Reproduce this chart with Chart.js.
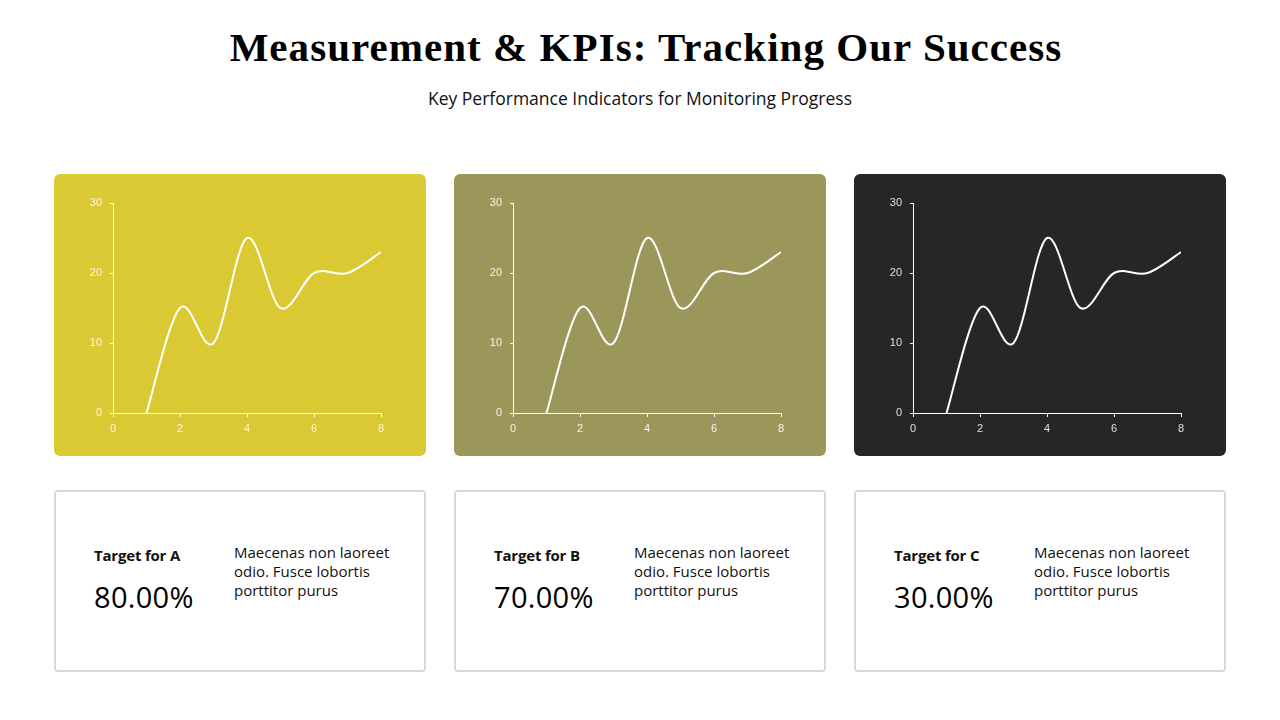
<!DOCTYPE html>
<html>
<head>
<meta charset="utf-8">
<script src="https://cdn.jsdelivr.net/npm/chart.js@4"></script>
<style>
  html, body { margin:0; padding:0; background:#fff; }
  body { width:1280px; height:720px; position:relative; overflow:hidden; font-family:"Open Sans", "Noto Sans", sans-serif; }
  h1 { position:absolute; left:6px; width:1280px; top:23px; margin:0; text-align:center;
       font-family:"Liberation Serif", "DejaVu Serif", serif; font-weight:bold; font-size:41px; color:#000; letter-spacing:1.05px; }
  .sub { position:absolute; left:0; width:1280px; top:86px; text-align:center; font-size:17.5px; color:#111; }
  .panel { position:absolute; top:174px; width:372px; height:282px; border-radius:6px; }
  .panel canvas { position:absolute; left:0; top:0; }
  .card { position:absolute; top:490px; width:368px; height:178px; border:2px solid #d9d9d9; border-radius:4px; background:#fff; }
  .card .lbl { position:absolute; left:38px; top:53px; font-size:15px; font-weight:bold; color:#111; letter-spacing:-0.2px; }
  .card .val { position:absolute; left:38px; top:85px; font-size:29px; color:#000; letter-spacing:0.3px; }
  .card .txt { position:absolute; left:178px; top:51px; width:175px; font-size:15px; line-height:19px; color:#111; }
</style>
</head>
<body>
<h1>Measurement &amp; KPIs: Tracking Our Success</h1>
<div class="sub">Key Performance Indicators for Monitoring Progress</div>

<div class="panel" style="left:54px;background:#dbc933"><canvas id="c0" width="372" height="282"></canvas></div>
<div class="panel" style="left:454px;background:#9b975a"><canvas id="c1" width="372" height="282"></canvas></div>
<div class="panel" style="left:854px;background:#262626"><canvas id="c2" width="372" height="282"></canvas></div>

<div class="card" style="left:54px"><div class="lbl">Target for A</div><div class="val">80.00%</div><div class="txt">Maecenas non laoreet odio. Fusce lobortis porttitor purus</div></div>
<div class="card" style="left:454px"><div class="lbl">Target for B</div><div class="val">70.00%</div><div class="txt">Maecenas non laoreet odio. Fusce lobortis porttitor purus</div></div>
<div class="card" style="left:854px"><div class="lbl">Target for C</div><div class="val">30.00%</div><div class="txt">Maecenas non laoreet odio. Fusce lobortis porttitor purus</div></div>

<script>
const xValues = [1, 2, 3, 4, 5, 6, 7, 8];
const yValues = [0, 15, 10, 25, 15, 20, 20, 23];
const xTicks  = [0, 2, 4, 6, 8];
const yTicks  = [0, 10, 20, 30];

const labelColors = ['rgba(255,255,255,0.85)', 'rgba(255,255,255,0.9)', 'rgba(255,255,255,0.85)'];

// office-style smoothing: uniform catmull-rom on the pixel points chart.js already placed
const smoothPlugin = {
    id: 'smooth',
    beforeDatasetDraw(chart, args) {
        const line = args.meta.dataset;
        const pts  = args.meta.data;
        line.updateControlPoints(chart.chartArea, 'x');
        const k = 1 / 6;
        const n = pts.length;
        for (let i = 0; i < n; i++) {
            const p    = pts[i];
            const prev = pts[Math.max(i - 1, 0)];
            const next = pts[Math.min(i + 1, n - 1)];
            const dx = (next.x - prev.x) * k;
            const dy = (next.y - prev.y) * k;
            p.cp1x = p.x - dx; p.cp1y = p.y - dy;
            p.cp2x = p.x + dx; p.cp2y = p.y + dy;
        }
        line._path = undefined;
    }
};

function makeChart(id, labelColor) {
    const ctx = document.getElementById(id);
    new Chart(ctx, {
        type: 'line',
        data: {
            datasets: [{
                data        : xValues.map((x, i) => ({ x, y: yValues[i] })),
                borderColor : '#ffffff',
                borderWidth : 2,
                pointRadius : 0,
                tension     : 0.4,
                fill        : false,
            }]
        },
        options: {
            responsive: false,
            animation : false,
            layout: { padding: { left: 19, right: 45, top: 29, bottom: 0 } },
            plugins: { legend: { display:false }, tooltip: { enabled:false } },
            scales: {
                x: {
                    type: 'linear', min: 0, max: 8,
                    afterBuildTicks: s => { s.ticks = xTicks.map(v => ({ value: v })); },
                    afterFit: s => { s.height = 43; },
                    grid  : { drawOnChartArea:false, color:'#fff', tickLength:4 },
                    border: { color:'#fff', width:1 },
                    ticks : { color: labelColor, font:{ family:'Liberation Sans', size:11 }, padding:5, maxRotation:0 }
                },
                y: {
                    min: 0, max: 30,
                    afterBuildTicks: s => { s.ticks = yTicks.map(v => ({ value: v })); },
                    afterFit: s => { s.width = 40; },
                    grid  : { drawOnChartArea:false, color:'#fff', tickLength:3 },
                    border: { color:'#fff', width:1 },
                    ticks : { color: labelColor, font:{ family:'Liberation Sans', size:11 }, padding:8 }
                }
            }
        },
        plugins: [smoothPlugin]
    });
}

['c0', 'c1', 'c2'].forEach((id, i) => makeChart(id, labelColors[i]));
</script>
</body>
</html>
